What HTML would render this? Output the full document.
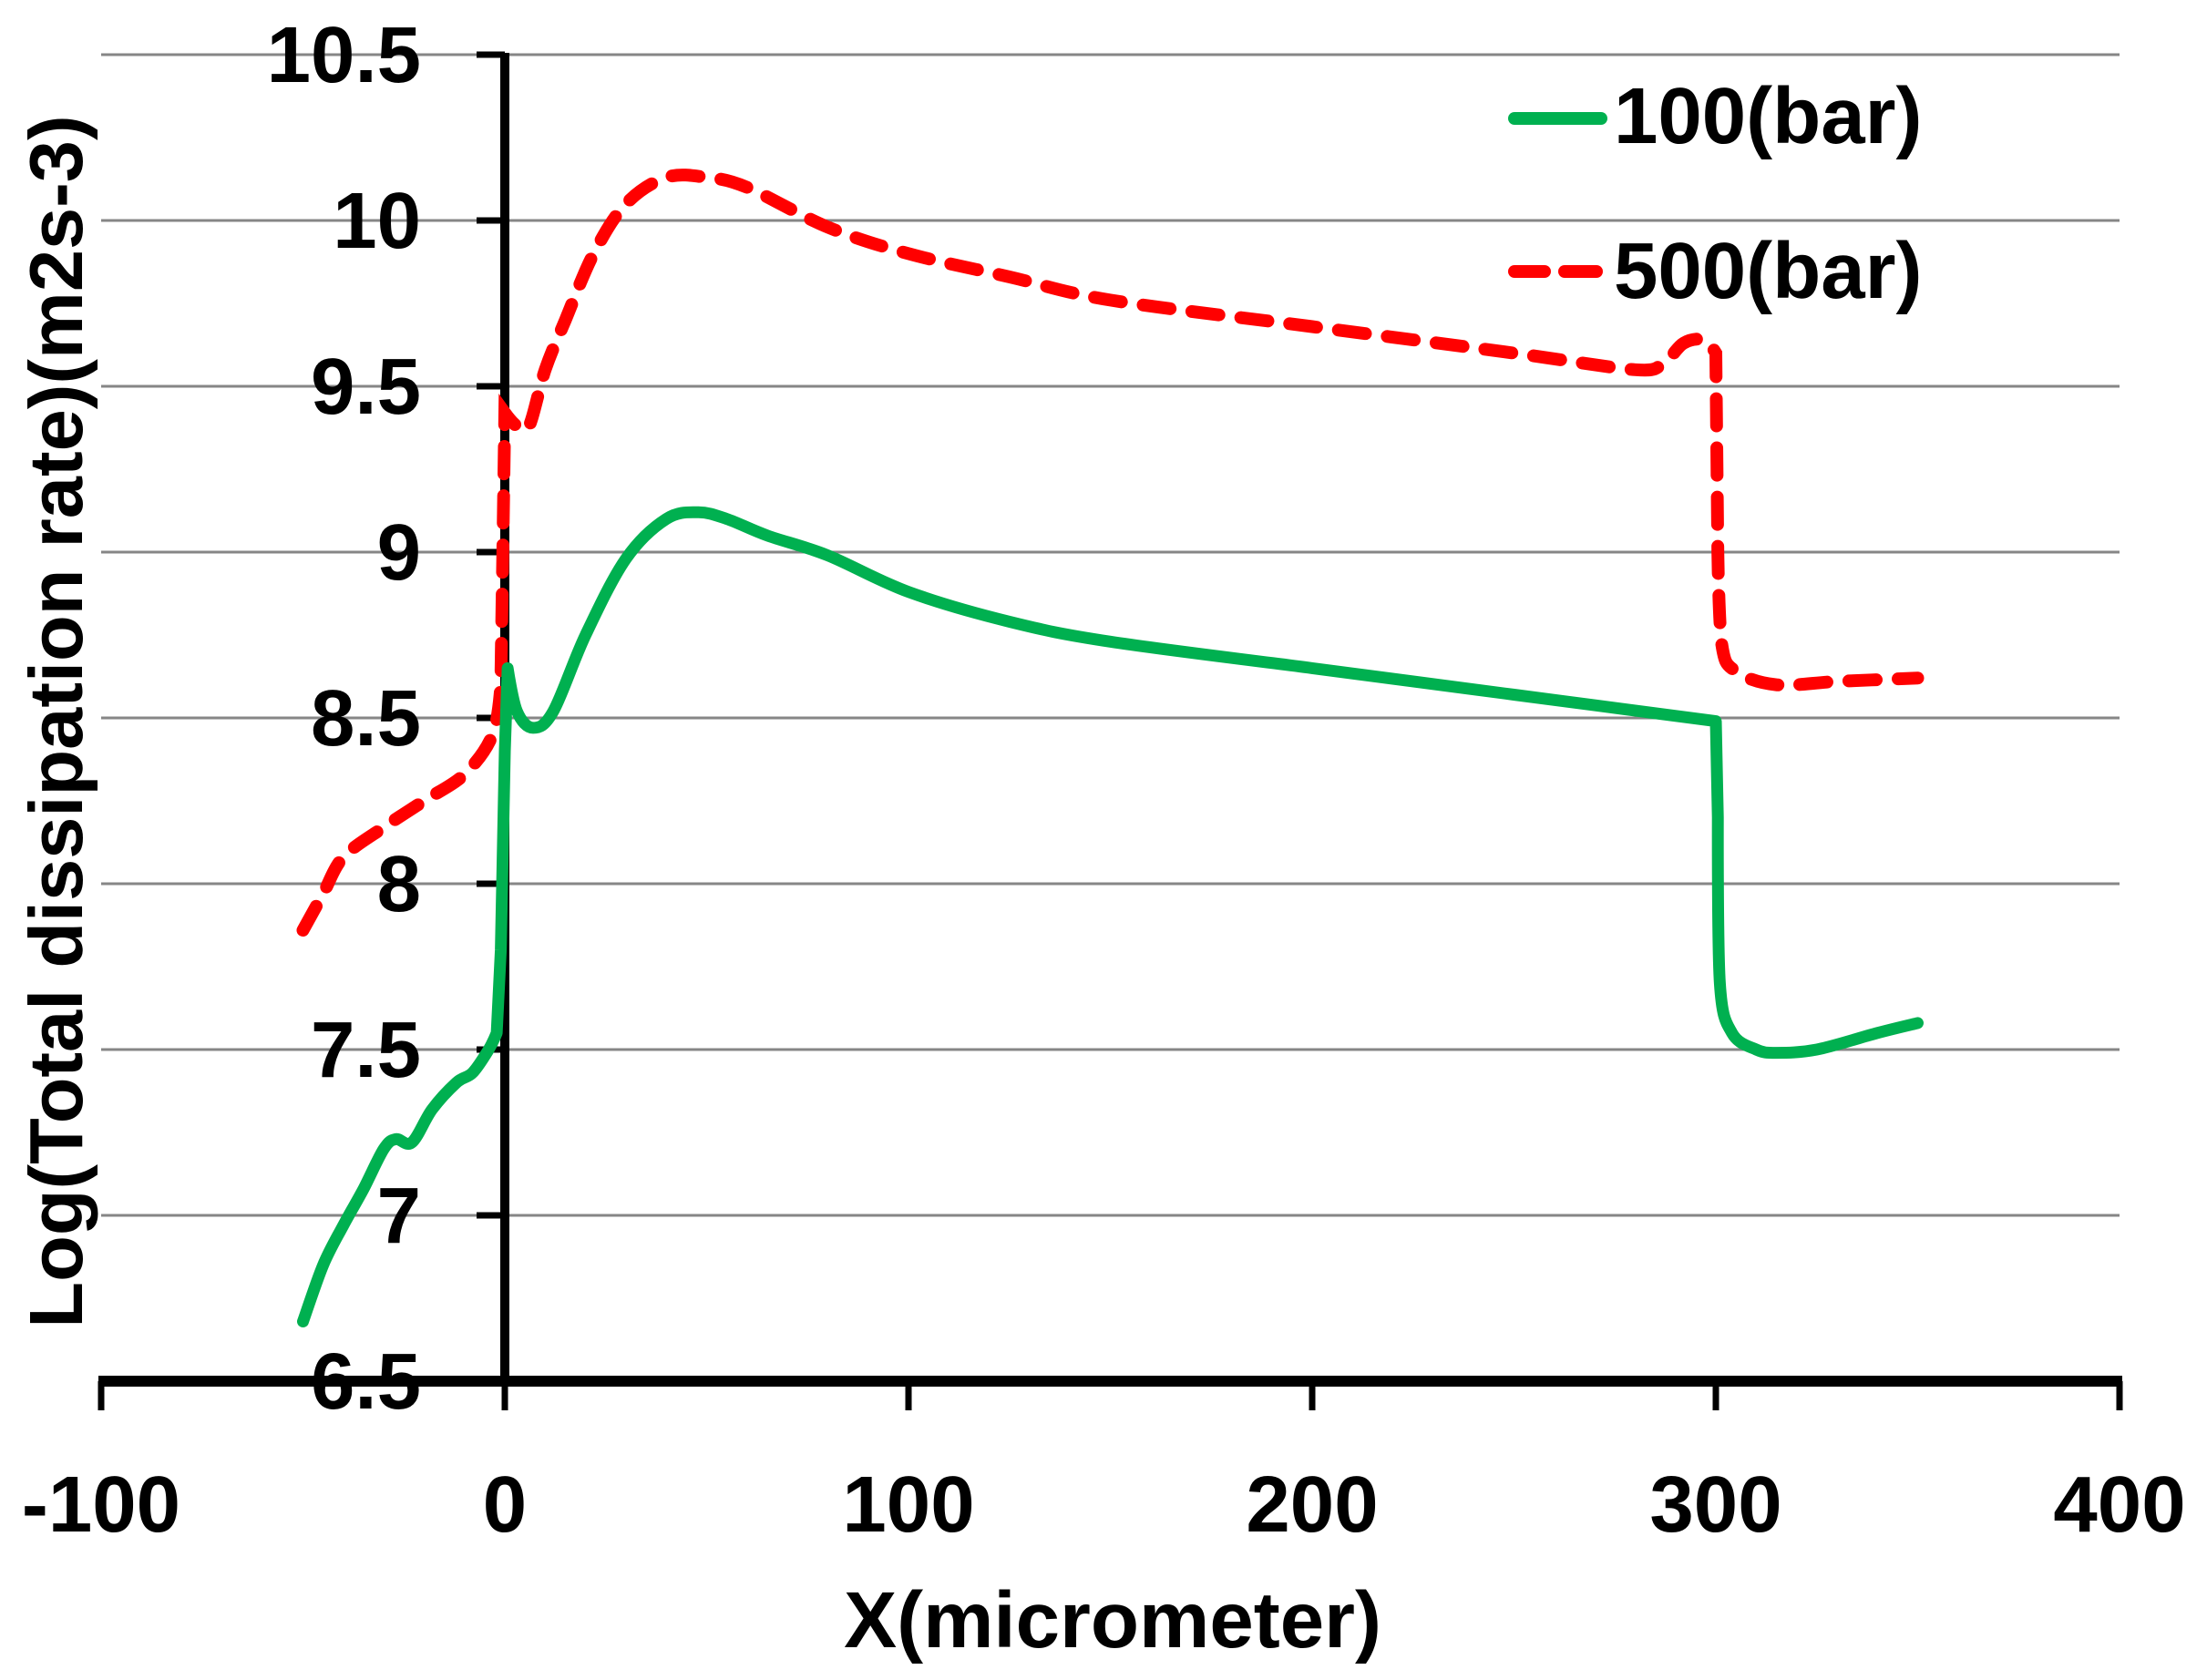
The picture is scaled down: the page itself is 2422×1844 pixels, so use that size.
<!DOCTYPE html>
<html><head><meta charset="utf-8"><style>
html,body{margin:0;padding:0;background:#fff;}
svg{display:block;}
text{font-family:"Liberation Sans",sans-serif;font-weight:bold;fill:#000;}
</style></head><body>
<svg id="s" width="2422" height="1844" viewBox="0 0 2422 1844" xmlns="http://www.w3.org/2000/svg">
<g stroke="#868686" stroke-width="3">
<line x1="111" y1="60" x2="2326" y2="60"/>
<line x1="111" y1="242" x2="2326" y2="242"/>
<line x1="111" y1="424" x2="2326" y2="424"/>
<line x1="111" y1="606" x2="2326" y2="606"/>
<line x1="111" y1="788" x2="2326" y2="788"/>
<line x1="111" y1="970" x2="2326" y2="970"/>
<line x1="111" y1="1152" x2="2326" y2="1152"/>
<line x1="111" y1="1334" x2="2326" y2="1334"/>
</g>
<g font-size="87" text-anchor="end">
<text x="462" y="90">10.5</text>
<text x="462" y="272">10</text>
<text x="462" y="454">9.5</text>
<text x="462" y="636">9</text>
<text x="462" y="818">8.5</text>
<text x="462" y="1000">8</text>
<text x="462" y="1182">7.5</text>
<text x="462" y="1364">7</text>
<text x="462" y="1546">6.5</text>
</g>
<g stroke="#000" stroke-width="7">
<line x1="523" y1="60" x2="554" y2="60"/>
<line x1="523" y1="242" x2="554" y2="242"/>
<line x1="523" y1="424" x2="554" y2="424"/>
<line x1="523" y1="606" x2="554" y2="606"/>
<line x1="523" y1="788" x2="554" y2="788"/>
<line x1="523" y1="970" x2="554" y2="970"/>
<line x1="523" y1="1152" x2="554" y2="1152"/>
<line x1="523" y1="1334" x2="554" y2="1334"/>
<line x1="111" y1="1516" x2="111" y2="1548"/>
<line x1="554" y1="1516" x2="554" y2="1548"/>
<line x1="997" y1="1516" x2="997" y2="1548"/>
<line x1="1440" y1="1516" x2="1440" y2="1548"/>
<line x1="1883" y1="1516" x2="1883" y2="1548"/>
<line x1="2326" y1="1516" x2="2326" y2="1548"/>
</g>
<line x1="554" y1="58" x2="554" y2="1520" stroke="#000" stroke-width="10"/>
<line x1="108" y1="1516" x2="2329" y2="1516" stroke="#000" stroke-width="12"/>
<g font-size="87" text-anchor="middle">
<text x="111" y="1681">-100</text>
<text x="554" y="1681">0</text>
<text x="997" y="1681">100</text>
<text x="1440" y="1681">200</text>
<text x="1883" y="1681">300</text>
<text x="2326" y="1681">400</text>
<text x="1221" y="1808">X(micrometer)</text>
<text transform="translate(90,792) rotate(-90)" x="0" y="0" font-size="83">Log(Total dissipation rate)(m2s-3)</text>
</g>
<path id="red" fill="none" stroke="#ff0000" stroke-width="14" stroke-linecap="round" stroke-dasharray="30 24"/>
<path id="grn" fill="none" stroke="#00b050" stroke-width="13" stroke-linecap="round" stroke-linejoin="round"/>
<line x1="1662" y1="130" x2="1757" y2="130" stroke="#00b050" stroke-width="14" stroke-linecap="round"/>
<line x1="1662" y1="298" x2="1695" y2="298" stroke="#ff0000" stroke-width="14" stroke-linecap="round"/>
<line x1="1717" y1="298" x2="1752" y2="298" stroke="#ff0000" stroke-width="14" stroke-linecap="round"/>
<g font-size="87"><text x="1771" y="157">100(bar)</text><text x="1771" y="327">500(bar)</text></g>
</svg>
<script>
function P(d){
  var p=d.map(function(q){return [554+q[0]*4.43, 60+(10.5-q[1])*364, q[2]||0];});
  function tan(i){
    if(p[i][2]) return [0,0];
    var a=p[i-1]||p[i], b=p[i+1]||p[i];
    return [(b[0]-a[0])/6,(b[1]-a[1])/6];
  }
  var s='M'+p[0][0].toFixed(1)+' '+p[0][1].toFixed(1);
  for(var i=0;i<p.length-1;i++){
    var p1=p[i],p2=p[i+1],t1=tan(i),t2=tan(i+1);
    s+=' C'+(p1[0]+t1[0]).toFixed(1)+' '+(p1[1]+t1[1]).toFixed(1)+' '+(p2[0]-t2[0]).toFixed(1)+' '+(p2[1]-t2[1]).toFixed(1)+' '+p2[0].toFixed(1)+' '+p2[1].toFixed(1);
  }
  return s;
}
var g=[[-50,6.68],[-45,6.85],[-40,6.97],[-35,7.08],[-30,7.2],[-27,7.23],[-23,7.22],[-18,7.32],[-12,7.4],[-8,7.43],[-4,7.5],[-2,7.55,1],[-1,7.8,1],[0,8.4,1],[0.7,8.65,1],[3,8.52],[7,8.47],[12,8.52],[20,8.75],[30,8.98],[40,9.1],[48,9.12],[55,9.1],[65,9.05],[80,8.99],[100,8.88],[125,8.79],[150,8.73],[200,8.65],[250,8.57],[300,8.49,1],[300.5,8.2,1],[301,7.7],[304,7.55],[310,7.5],[315,7.49],[325,7.5],[340,7.55],[350,7.58]];
var r=[[-50,7.86],[-45,7.97],[-40,8.08],[-30,8.17],[-20,8.25],[-10,8.33],[-3,8.45],[-1,8.6,1],[-0.5,9.0,1],[0,9.42,1],[3,9.38],[6,9.38],[10,9.55],[15,9.7],[22,9.9],[30,10.05],[40,10.13],[50,10.13],[60,10.1],[80,9.98],[100,9.9],[125,9.83],[150,9.76],[200,9.68],[250,9.6],[280,9.55],[287,9.57],[292,9.63],[297,9.64],[300,9.6,1],[300.5,9.0,1],[301.5,8.72],[305,8.64],[315,8.6],[330,8.61],[350,8.62]];
document.getElementById('grn').setAttribute('d',P(g));
document.getElementById('red').setAttribute('d',P(r));
</script>
</body></html>
